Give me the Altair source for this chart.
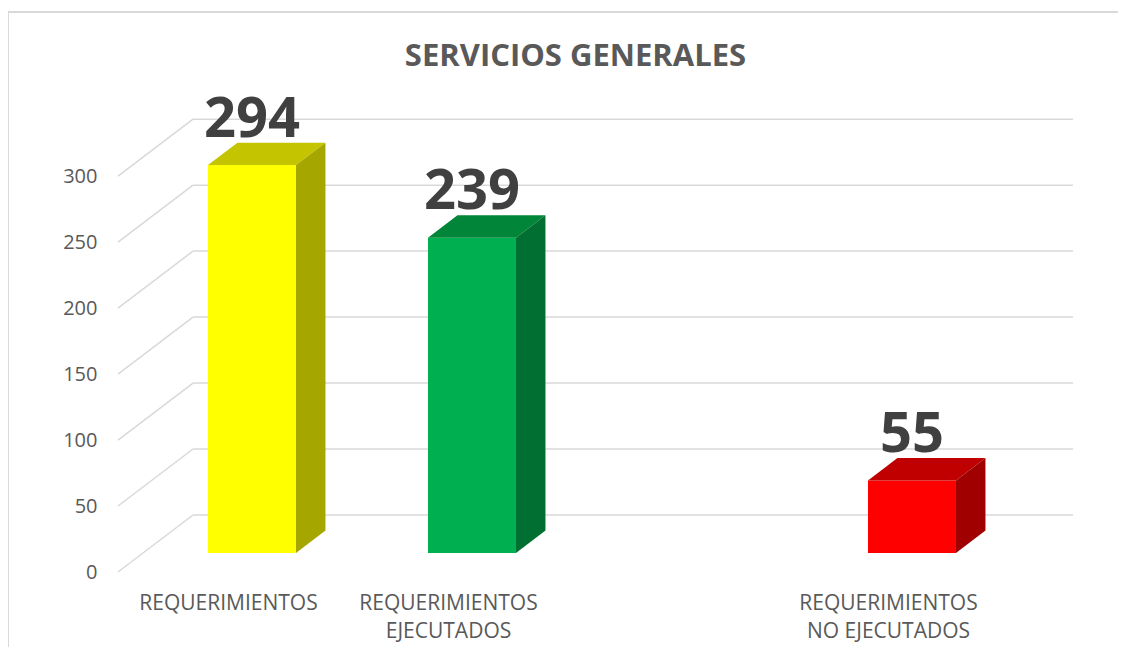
import altair as alt
import pandas as pd

# ---- data ----
categories = ["REQUERIMIENTOS", "REQUERIMIENTOS\nEJECUTADOS", "", "REQUERIMIENTOS\nNO EJECUTADOS"]
values = [294, 239, None, 55]
front_colors = ["#FFFF00", "#00B050", None, "#FF0000"]
top_colors = ["#C4C400", "#008539", None, "#C00000"]
side_colors = ["#A6A600", "#006F31", None, "#A00000"]
y_ticks = [0, 50, 100, 150, 200, 250, 300]
title_text = "SERVICIOS GENERALES"

# ---- 3D geometry (style, in data units) ----
BAR_W = 0.40
BAR_SHIFT_X = 0.109
BAR_SHIFT_Y = 14.4
DEPTH_X = 0.134
DEPTH_Y = 17.0
WALL_X = 0.341
WALL_Y = 43.2
X_MAX = 4.35
Y_MAX = 360

xs = alt.Scale(domain=[0, X_MAX], nice=False, zero=False)
ys = alt.Scale(domain=[0, Y_MAX], nice=False, zero=False)

# gridlines: back wall + side wall diagonals
grid_rows = []
for v in y_ticks:
    grid_rows.append({"x": WALL_X, "x2": X_MAX - 0.009, "y": v + WALL_Y, "y2": v + WALL_Y})
    grid_rows.append({"x": 0.0, "x2": WALL_X, "y": v, "y2": v + WALL_Y})
grid = pd.DataFrame(grid_rows)

front_rows, face_rows, label_rows = [], [], []
keys, key_colors = [], []
for i, v in enumerate(values):
    if v is None:
        continue
    c = i + 0.5 + BAR_SHIFT_X
    xl, xr = c - BAR_W / 2, c + BAR_W / 2
    yb, yt = BAR_SHIFT_Y, BAR_SHIFT_Y + v
    front_rows.append({"k": f"f{i}", "x": xl, "x2": xr, "y": yb, "y2": yt})
    keys.append(f"f{i}"); key_colors.append(front_colors[i])
    # top face
    for px, py, py2 in [(xl, yt, yt), (xl + DEPTH_X, yt + DEPTH_Y, yt),
                        (xr, yt + DEPTH_Y, yt), (xr + DEPTH_X, yt + DEPTH_Y, yt + DEPTH_Y)]:
        face_rows.append({"k": f"t{i}", "x": px, "y": py, "y2": py2})
    keys.append(f"t{i}"); key_colors.append(top_colors[i])
    # side face
    for px, py, py2 in [(xr, yt, yb), (xr + DEPTH_X, yt + DEPTH_Y, yb + DEPTH_Y)]:
        face_rows.append({"k": f"s{i}", "x": px, "y": py, "y2": py2})
    keys.append(f"s{i}"); key_colors.append(side_colors[i])
    label_rows.append({"x": c, "y": yt + DEPTH_Y, "t": str(v)})

fronts = pd.DataFrame(front_rows)
faces = pd.DataFrame(face_rows)
labels = pd.DataFrame(label_rows)

color = alt.Color("k:N", scale=alt.Scale(domain=keys, range=key_colors), legend=None)

lines_js = "[" + ",".join("[" + ",".join("'" + p + "'" for p in cat.split("\n")) + "]" for cat in categories) + "]"
label_expr = lines_js + "[floor(datum.value)]"

x_axis = alt.Axis(values=[i + 0.5 for i, v in enumerate(values) if v is not None],
                  labelExpr=label_expr, title=None, domain=False, ticks=False, grid=False,
                  labelFontSize=21, labelColor="#595959", labelFont="Open Sans",
                  labelPadding=20, labelLineHeight=28, labelAngle=0)
y_axis = alt.Axis(values=y_ticks, title=None, domain=False, ticks=False, grid=False,
                  labelFontSize=20, labelColor="#595959", labelFont="Open Sans",
                  labelPadding=21)

frame = alt.Chart(pd.DataFrame({"a": [0]})).mark_rect(
    fill="transparent", stroke="#D9D9D9", strokeWidth=2
).encode(x=alt.value(-110), x2=alt.value(1010), y=alt.value(-85), y2=alt.value(600))

grid_layer = alt.Chart(grid).mark_rule(color="#D9D9D9", strokeWidth=1.5).encode(
    x=alt.X("x:Q", scale=xs, axis=x_axis), x2="x2:Q",
    y=alt.Y("y:Q", scale=ys, axis=y_axis), y2="y2:Q")

front_layer = alt.Chart(fronts).mark_rect().encode(
    x=alt.X("x:Q", scale=xs), x2="x2:Q",
    y=alt.Y("y:Q", scale=ys), y2="y2:Q", color=color)

face_layer = alt.Chart(faces).mark_area(orient="vertical", interpolate="linear").encode(
    x=alt.X("x:Q", scale=xs),
    y=alt.Y("y:Q", scale=ys, stack=None), y2="y2:Q",
    color=color, detail="k:N")

label_layer = alt.Chart(labels).mark_text(
    baseline="alphabetic", dy=-6, fontSize=56, fontWeight="bold",
    font="Open Sans", color="#404040"
).encode(x=alt.X("x:Q", scale=xs), y=alt.Y("y:Q", scale=ys), text="t:N")

chart = alt.layer(frame, grid_layer, front_layer, face_layer, label_layer).properties(
    width=957, height=475,
    autosize=alt.AutoSizeParams(type="none"),
    padding={"left": 110, "top": 89, "right": 43, "bottom": 75},
    title=alt.TitleParams(title_text, fontSize=31, font="Open Sans", fontWeight="bold",
                          color="#595959", anchor="middle", dx=-21, dy=66),
).configure_view(stroke=None).resolve_scale(color="shared")

chart.save("out.html", embed_options={"renderer": "svg", "actions": False})
